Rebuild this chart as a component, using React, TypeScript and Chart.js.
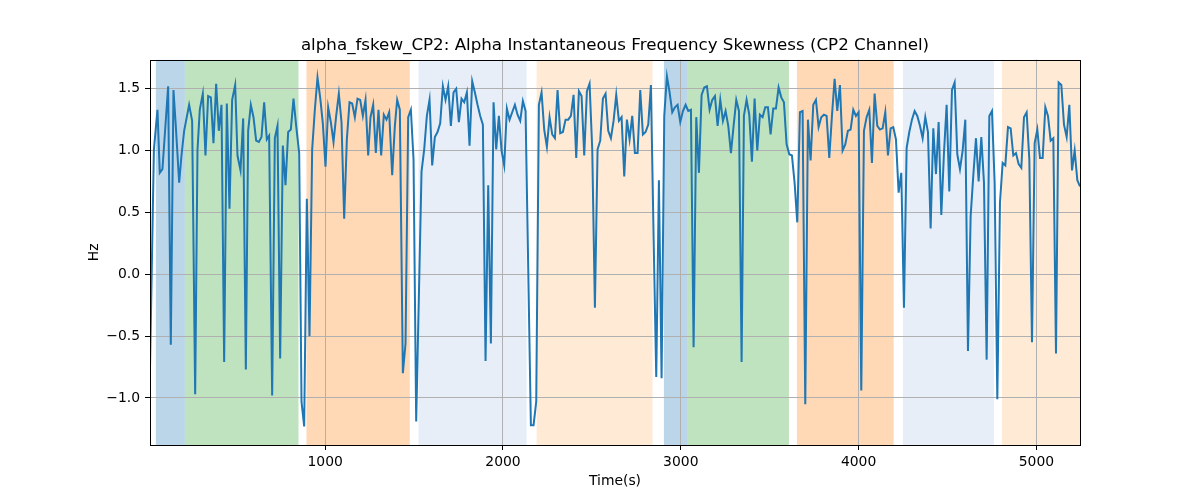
import { useEffect, useRef } from 'react'
import { Chart, registerables } from 'chart.js'
import type { Plugin } from 'chart.js'

Chart.register(...registerables)

const FONT = "'DejaVu Sans', sans-serif"

// sample times (s)
const timeS = [
  15, 37, 57, 70, 85, 117, 132, 147, 160, 179, 192, 207, 235, 252, 269, 282, 295, 312, 327, 342,
  357, 372, 387, 402, 417, 432, 447, 462, 477, 494, 507, 524, 539, 554, 567, 582, 597, 612, 627, 642,
  657, 672, 685, 702, 717, 732, 747, 762, 777, 792, 807, 822, 837, 854, 867, 882, 897, 912, 927, 942,
  957, 972, 987, 1002, 1017, 1032, 1047, 1062, 1077, 1092, 1107, 1122, 1137, 1152, 1167, 1182, 1197, 1212, 1227, 1242,
  1255, 1270, 1285, 1300, 1315, 1330, 1345, 1360, 1377, 1392, 1405, 1420, 1437, 1452, 1467, 1482, 1497, 1512, 1542, 1557,
  1572, 1587, 1602, 1617, 1632, 1647, 1662, 1677, 1692, 1707, 1722, 1737, 1752, 1767, 1782, 1797, 1812, 1827, 1842, 1857,
  1872, 1887, 1902, 1917, 1932, 1947, 1962, 1977, 1992, 2007, 2022, 2037, 2052, 2067, 2082, 2097, 2112, 2127, 2157, 2172,
  2187, 2202, 2217, 2232, 2247, 2262, 2277, 2292, 2307, 2322, 2337, 2352, 2367, 2382, 2397, 2412, 2427, 2442, 2457, 2472,
  2487, 2502, 2517, 2532, 2547, 2562, 2577, 2592, 2607, 2622, 2637, 2652, 2667, 2682, 2697, 2712, 2727, 2742, 2757, 2772,
  2787, 2802, 2817, 2832, 2847, 2862, 2877, 2892, 2907, 2922, 2937, 2952, 2967, 2982, 2997, 3012, 3027, 3042, 3057, 3072,
  3087, 3102, 3117, 3132, 3147, 3162, 3177, 3192, 3207, 3222, 3237, 3252, 3267, 3282, 3297, 3312, 3327, 3342, 3355, 3370,
  3385, 3400, 3415, 3430, 3445, 3460, 3475, 3490, 3505, 3520, 3535, 3550, 3565, 3580, 3595, 3610, 3625, 3640, 3655, 3670,
  3685, 3700, 3715, 3730, 3745, 3760, 3775, 3790, 3805, 3820, 3835, 3850, 3865, 3880, 3895, 3910, 3925, 3940, 3955, 3970,
  3985, 4000, 4015, 4030, 4045, 4060, 4075, 4090, 4105, 4120, 4135, 4150, 4165, 4180, 4195, 4210, 4225, 4240, 4255, 4270,
  4285, 4300, 4315, 4330, 4345, 4360, 4375, 4390, 4405, 4420, 4435, 4450, 4465, 4480, 4495, 4510, 4525, 4540, 4555, 4570,
  4585, 4600, 4615, 4630, 4645, 4660, 4675, 4690, 4705, 4720, 4735, 4750, 4765, 4780, 4795, 4810, 4825, 4840, 4855, 4870,
  4885, 4900, 4915, 4930, 4945, 4960, 4975, 4990, 5005, 5020, 5035, 5050, 5065, 5080, 5095, 5110, 5125, 5140, 5155, 5170,
  5185, 5200, 5215, 5230, 5245,
]

// skewness (Hz)
const skewHz = [
  -0.76, 1.01, 1.33, 0.82, 0.85, 1.52, -0.57, 1.49, 1.2, 0.74, 0.96, 1.16, 1.37, 1.24, -0.97, 1.0, 1.33, 1.46, 0.96, 1.44,
  1.43, 1.06, 1.54, 1.16, 1.37, -0.71, 1.38, 0.53, 1.41, 1.53, 0.96, 0.84, 1.26, -0.77, 1.16, 1.37, 1.27, 1.08, 1.07, 1.11,
  1.39, 1.09, 1.12, -0.98, 1.1, 1.2, -0.68, 1.04, 0.72, 1.15, 1.17, 1.42, 1.2, 0.98, -1.03, -1.23, 0.61, -0.5, 1.01, 1.33,
  1.59, 1.43, 1.22, 0.87, 1.35, 1.23, 1.07, 1.28, 1.46, 1.23, 0.45, 1.09, 1.39, 1.38, 1.27, 1.42, 1.41, 1.28, 1.41, 0.96,
  1.27, 1.37, 0.98, 1.33, 0.96, 1.29, 1.25, 1.31, 0.8, 1.2, 1.41, 1.33, -0.8, -0.56, 1.27, 1.33, 0.93, -1.19, 0.83, 1.01,
  1.28, 1.41, 0.88, 1.11, 1.15, 1.22, 1.52, 1.41, 1.52, 1.2, 1.47, 1.5, 1.23, 1.42, 1.39, 1.47, 1.04, 1.56, 1.47, 1.37,
  1.28, 1.21, -0.7, 0.72, -0.56, 1.39, 1.01, 1.28, 1.0, 0.88, 1.34, 1.25, 1.31, 1.37, 1.29, 1.24, 1.4, 1.32, -1.22, -1.22,
  -1.03, 1.37, 1.47, 1.17, 1.03, 1.27, 1.13, 1.1, 1.49, 1.14, 1.15, 1.25, 1.25, 1.28, 1.45, 0.94, 1.48, 1.44, 0.96, 1.48,
  1.54, 1.01, -0.27, 1.01, 1.08, 1.42, 1.46, 1.16, 1.1, 1.24, 1.45, 1.24, 1.27, 0.79, 1.25, 1.09, 1.28, 0.98, 0.98, 1.49,
  1.13, 1.15, 1.21, 1.53, 0.31, -0.83, 0.76, -0.84, 1.28, 1.6, 1.47, 1.31, 1.35, 1.37, 1.23, 1.32, 1.37, 1.32, 1.33, -0.59,
  1.27, 0.82, 1.45, 1.51, 1.52, 1.33, 1.41, 1.44, 1.2, 1.41, 1.24, 1.32, 1.2, 0.98, 1.2, 1.41, 1.32, -0.71, 1.28, 1.41,
  1.29, 0.91, 1.42, 1.0, 1.29, 1.27, 1.35, 1.35, 1.13, 1.34, 1.34, 1.51, 1.43, 1.39, 1.05, 0.97, 0.96, 0.74, 0.42, 1.31,
  1.32, -1.05, 1.25, 0.92, 1.37, 1.41, 1.19, 1.27, 1.29, 1.28, 0.94, 1.28, 1.58, 1.32, 1.53, 1.0, 1.05, 1.16, 1.17, 1.33,
  1.28, 1.31, -0.94, 1.16, 1.27, 1.33, 0.9, 1.46, 1.2, 1.17, 1.18, 1.31, 0.96, 1.18, 1.19, 1.09, 0.66, 0.82, -0.27, 1.02,
  1.15, 1.25, 1.32, 1.28, 1.2, 1.1, 1.27, 1.15, 0.37, 1.18, 0.81, 1.23, 0.48, 0.98, 1.37, 0.67, 1.49, 1.55, 0.97, 0.85,
  1.0, 1.25, -0.62, 0.47, 0.8, 1.1, 0.75, 1.11, 0.74, -0.69, 1.28, 1.32, 0.74, -1.01, 0.58, 0.9, 0.88, 1.19, 1.18, 0.96,
  0.98, 0.89, 0.86, 1.27, 1.31, 0.93, -0.55, 1.06, 1.17, 0.94, 0.94, 1.35, 1.28, 1.08, 1.1, -0.64, 1.55, 1.53, 1.21, 1.11,
  1.37, 0.84, 1.0, 0.76, 0.71,
]

// shaded segments (s)
const spanStart = [48, 211, 895, 1525, 2189, 2905, 3038, 3653, 4249, 4806]
const spanEnd = [211, 850, 1476, 2133, 2841, 3038, 3608, 4197, 4761, 5260]
const spanColor = [
  'rgba(31,119,180,0.3)',
  'rgba(44,160,44,0.3)',
  'rgba(255,127,14,0.3)',
  'rgba(174,199,232,0.3)',
  'rgba(255,187,120,0.3)',
  'rgba(31,119,180,0.3)',
  'rgba(44,160,44,0.3)',
  'rgba(255,127,14,0.3)',
  'rgba(174,199,232,0.3)',
  'rgba(255,187,120,0.3)',
]

const xTicks = [1000, 2000, 3000, 4000, 5000]
const yTicks = [-1.0, -0.5, 0.0, 0.5, 1.0, 1.5]

const spansPlugin: Plugin<'line'> = {
  id: 'spans',
  beforeDraw(chart) {
    const { ctx, chartArea, scales } = chart
    const x = scales.x
    ctx.save()
    ctx.beginPath()
    ctx.rect(chartArea.left, chartArea.top, chartArea.width, chartArea.height)
    ctx.clip()
    spanStart.forEach((s, i) => {
      const x0 = x.getPixelForValue(s)
      const x1 = x.getPixelForValue(spanEnd[i])
      ctx.fillStyle = spanColor[i]
      ctx.fillRect(x0, chartArea.top, x1 - x0, chartArea.height)
    })
    ctx.restore()
  },
  afterDraw(chart) {
    const { ctx, chartArea } = chart
    ctx.save()
    ctx.strokeStyle = '#000'
    ctx.lineWidth = 1
    ctx.strokeRect(
      Math.round(chartArea.left) + 0.5,
      Math.round(chartArea.top) + 0.5,
      Math.round(chartArea.width),
      Math.round(chartArea.height),
    )
    ctx.restore()
  },
}

export default function App() {
  const canvasRef = useRef<HTMLCanvasElement>(null)

  useEffect(() => {
    document.body.style.margin = '0'
    if (!canvasRef.current) return

    const chart = new Chart(canvasRef.current, {
      type: 'line',
      data: {
        datasets: [
          {
            label: 'alpha_fskew_CP2',
            data: timeS.map((t, i) => ({ x: t, y: skewHz[i] })),
            borderColor: '#1f77b4',
            borderWidth: 2,
            pointRadius: 0,
            tension: 0,
            fill: false,
          },
        ],
      },
      options: {
        responsive: false,
        animation: false,
        devicePixelRatio: 1,
        layout: { padding: { left: 0, right: 120, top: 0, bottom: 0 } },
        plugins: {
          legend: { display: false },
          tooltip: { enabled: false },
          title: {
            display: true,
            fullSize: false,
            text: 'alpha_fskew_CP2: Alpha Instantaneous Frequency Skewness (CP2 Channel)',
            color: '#000',
            font: { family: FONT, size: 16.7, weight: 'normal' },
            padding: { top: 36, bottom: 3.6 },
          },
        },
        scales: {
          x: {
            type: 'linear',
            min: timeS[0],
            max: timeS[timeS.length - 1],
            afterFit: (scale) => {
              scale.height = 55
            },
            afterBuildTicks: (scale) => {
              scale.ticks = xTicks.map((v) => ({ value: v }))
            },
            ticks: {
              color: '#000',
              font: { family: FONT, size: 13.9 },
              padding: 4,
              maxRotation: 0,
              callback: (v) => String(v),
            },
            grid: { color: '#b0b0b0', lineWidth: 1, tickColor: '#000', tickLength: 5 },
            border: { display: false },
            title: {
              display: true,
              text: 'Time(s)',
              color: '#000',
              font: { family: FONT, size: 13.9 },
              padding: { top: 0, bottom: 10 },
            },
          },
          y: {
            type: 'linear',
            min: -1.38,
            max: 1.735,
            afterFit: (scale) => {
              scale.width = 150
            },
            afterBuildTicks: (scale) => {
              scale.ticks = yTicks.map((v) => ({ value: v }))
            },
            ticks: {
              color: '#000',
              font: { family: FONT, size: 13.9 },
              padding: 5,
              callback: (v) => Number(v).toFixed(1).replace('-', '\u2212'),
            },
            grid: { color: '#b0b0b0', lineWidth: 1, tickColor: '#000', tickLength: 5 },
            border: { display: false },
            title: {
              display: true,
              text: 'Hz',
              color: '#000',
              font: { family: FONT, size: 13.9 },
              padding: { top: 86, bottom: 0 },
            },
          },
        },
      },
      plugins: [spansPlugin],
    })

    return () => chart.destroy()
  }, [])

  return (
    <div style={{ width: 1200, height: 500 }}>
      <canvas ref={canvasRef} width={1200} height={500} />
    </div>
  )
}
